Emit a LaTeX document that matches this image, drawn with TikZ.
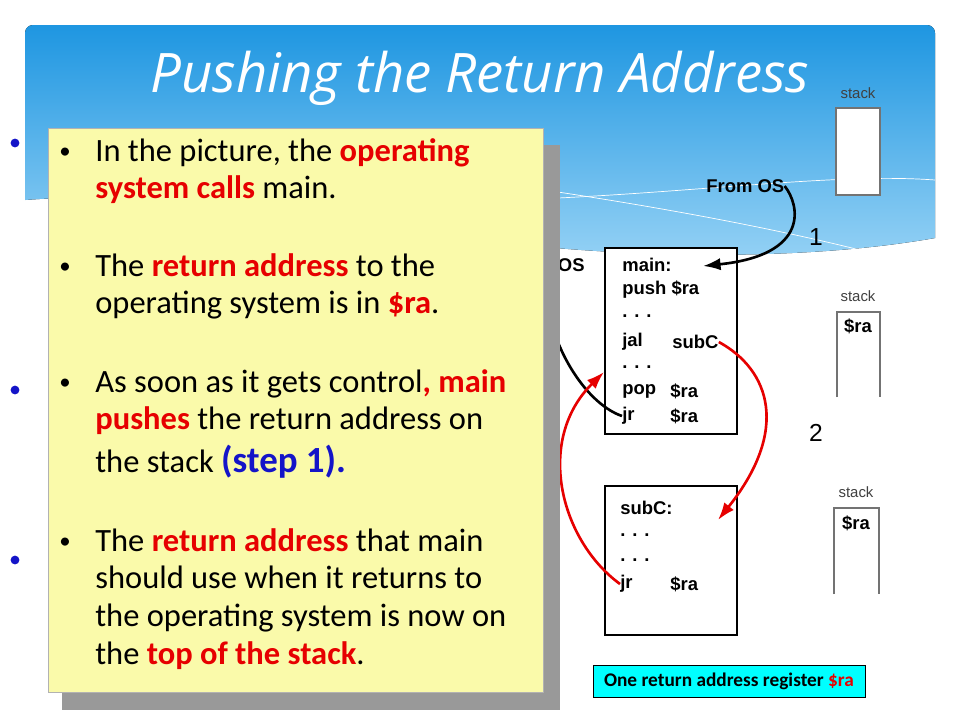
\documentclass[tikz,border=0pt]{standalone}
\usepackage{fontspec}
\setmainfont{Carlito}
\newfontfamily\titlefont{Open Sans}
\newfontfamily\codefont{Liberation Sans}
\usetikzlibrary{arrows.meta,positioning}
\definecolor{skyblue}{RGB}{30,150,225}
\definecolor{paleblue}{RGB}{150,210,245}
\definecolor{notebg}{RGB}{250,250,170}
\definecolor{redtxt}{RGB}{230,0,0}
\definecolor{bluetxt}{RGB}{20,20,200}
\definecolor{regcyan}{RGB}{0,255,255}
\begin{document}
\begin{tikzpicture}[x=0.02cm,y=-0.02cm,
	codebox/.style={draw,line width=1.6pt,fill=white},
	codeline/.style={anchor=west,inner sep=0pt,font=\codefont\bfseries\fontsize{10.5}{12}\selectfont},
	stacklabel/.style={font=\codefont\fontsize{8.5}{9}\selectfont,text=black!75},
	notetext/.style={anchor=north west,inner sep=0pt,align=left,font=\fontsize{18.5}{21.5}\selectfont},
	bul/.style={font=\fontsize{13}{15}\selectfont},
	dot/.style={circle,fill=bluetxt,inner sep=0pt,minimum size=5pt},
	>={Latex[length=10pt,width=7pt]}
	]
	\useasboundingbox (0,0) rectangle (960,720);
	\fill[white] (0,0) rectangle (960,720);
	% header band
	\fill[top color=skyblue,bottom color=paleblue]
	(25,200) -- (25,33) arc[start angle=180,end angle=270,radius=8] -- (927,25) arc[start angle=270,end angle=360,radius=8] -- (935,238) .. controls (800,262) and (620,258) .. (480,240) .. controls (300,215) and (150,190) .. (25,200) -- cycle;
	\draw[white,thin] (330,200) .. controls (600,210) and (800,170) .. (935,180);
	\draw[white,thin] (60,140) .. controls (400,160) and (700,210) .. (860,250);
	\node[font=\titlefont\itshape\fontsize{31}{36}\selectfont,text=white] (title) at (480,78) {Pushing the Return Address};
	% bullets peeking out on the left
	\node[dot] (d1) at (15,143) {};
	\node[dot] (d2) at (15,390) {};
	\node[dot] (d3) at (15,560) {};
	% stacks
	\node[stacklabel] (s1lab) at (858,93) {stack};
	\draw[black!55,line width=1.2pt,fill=white] (836,108) rectangle (880,195);
	\node[stacklabel] (s2lab) at (858,296) {stack};
	\draw[black!55,line width=1.2pt] (837,397) -- (837,312) -- (880,312) -- (880,397);
	\node[codeline,anchor=north] (s2ra) at (858,318) {\$ra};
	\node[stacklabel] (s3lab) at (856,492) {stack};
	\draw[black!55,line width=1.2pt] (834,594) -- (834,508) -- (879,508) -- (879,594);
	\node[codeline,anchor=north] (s3ra) at (856,515) {\$ra};
	% code boxes
	\draw[codebox] (605,248) rectangle (737,434);
	\node[codeline] (mainlab) at (622,265) {main:};
	\node[codeline] (push) at (622,290) {push \$ra};
	\node[codeline] (dots1) at (622,316) {. . .};
	\node[codeline] (jal) at (622,342) {jal};
	\node[codeline] (subc) at (672,342) {subC};
	\node[codeline] (dots2) at (622,367) {. . .};
	\node[codeline] (pop) at (622,391) {pop};
	\node[codeline] (popra) at (670,391) {\$ra};
	\node[codeline] (jr) at (622,416) {jr};
	\node[codeline] (jrra) at (670,416) {\$ra};
	\draw[codebox] (605,486) rectangle (737,635);
	\node[codeline] (sublab) at (620,508) {subC:};
	\node[codeline] (dots3) at (620,535) {. . .};
	\node[codeline] (dots4) at (620,560) {. . .};
	\node[codeline] (jr2) at (620,584) {jr};
	\node[codeline] (jr2ra) at (670,584) {\$ra};
	\node[codeline] (fromos) at (706,186) {From OS};
	\node[codeline,anchor=east] (toos) at (585,265) {to OS};
	\node[font=\codefont\fontsize{14}{16}\selectfont] (one) at (816,237) {1};
	\node[font=\codefont\fontsize{14}{16}\selectfont] (two) at (816,433) {2};
	\coordinate (mainin) at (703,266);
	\coordinate (mainup) at (604,372);
	\coordinate (subin) at (718,520);
	\coordinate (osin) at (547,303);
	% arrows
	\draw[->,line width=1.5pt] (fromos.east) .. controls (800,205) and (810,255) .. (mainin);
	\draw[->,line width=1.5pt] (jr.west) .. controls (590,405) and (560,360) .. (osin);
	\draw[->,redtxt,line width=1.5pt] (subc.east) .. controls (770,370) and (790,430) .. (subin);
	\draw[->,redtxt,line width=1.5pt] (jr2.west) .. controls (560,540) and (535,440) .. (mainup);
	% note box
	\fill[black!40] (62,145) rectangle (560,710);
	\draw[fill=notebg,draw=black!30] (48,128) rectangle (543,692);
	\node[bul] (b1) at (65,153) {\textbullet};
	\node[notetext] (t1) at (95,138) {In the picture, the \textcolor{redtxt}{\bfseries operating}\\\textcolor{redtxt}{\bfseries system calls} main.};
	\node[bul] (b2) at (65,268) {\textbullet};
	\node[notetext] (t2) at (95,253) {The \textcolor{redtxt}{\bfseries return address} to the\\operating system is in \textcolor{redtxt}{\bfseries \$ra}.};
	\node[bul] (b3) at (65,384) {\textbullet};
	\node[notetext] (t3) at (95,369) {As soon as it gets control\textcolor{redtxt}{\bfseries, main}\\\textcolor{redtxt}{\bfseries pushes} the return address on\\[3pt]the stack \textcolor{bluetxt}{\bfseries\fontsize{21}{23}\selectfont (step 1).}};
	\node[bul] (b4) at (65,543) {\textbullet};
	\node[notetext] (t4) at (95,528) {The \textcolor{redtxt}{\bfseries return address} that main\\should use when it returns to\\the operating system is now on\\the \textcolor{redtxt}{\bfseries top of the stack}.};
	% register note
	\node[draw,fill=regcyan,minimum width=272*0.02cm,minimum height=32*0.02cm,font=\bfseries\fontsize{11}{12}\selectfont] (reg) at (729,681) {One return address register \textcolor{redtxt}{\$ra}};
\end{tikzpicture}
\end{document}
